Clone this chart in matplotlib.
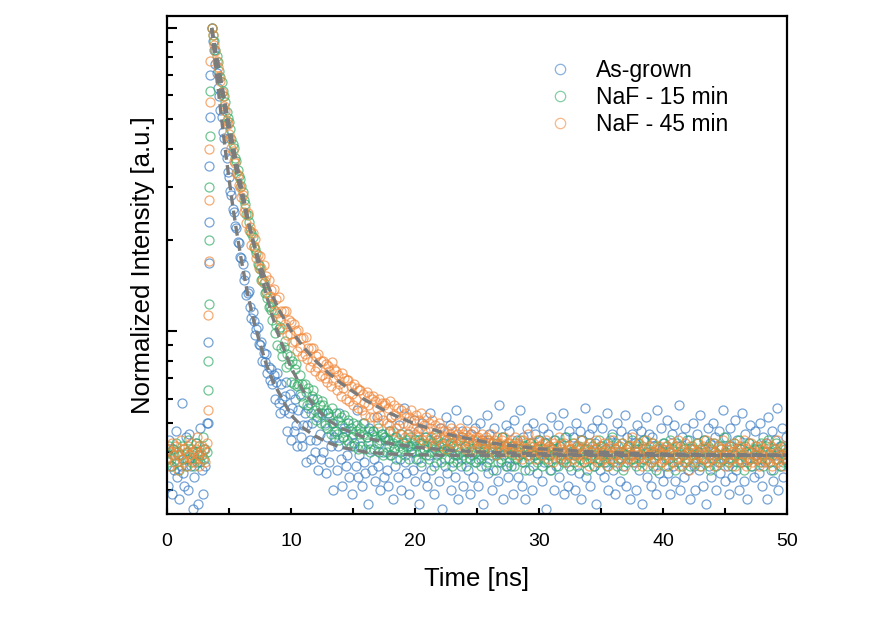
import numpy as np
import matplotlib
matplotlib.use("Agg")
import matplotlib.pyplot as plt
from matplotlib.ticker import NullFormatter, LogLocator, MultipleLocator

plt.rcParams['font.family'] = ['Liberation Sans', 'DejaVu Sans']

# TRPL decays, counts normalised so that the peak = 1000 (0.1 ns channels, 0-50 ns)
time_ns = np.linspace(0, 50, 501)

blue = [
    # 0.0-3.2 ns, before the pulse
    38, 31, 44, 36, 29, 41, 35, 47, 33, 39, 28, 36, 58, 34, 31, 45, 38, 30, 46, 36, 40, 26, 33, 43, 37, 27, 39, 48, 35, 29, 41, 36, 50,
    # 3.3-3.5 rise
    92, 350, 700,
    # 3.6 ns peak onwards
    1000, 905, 846, 758, 712, 636, 598, 537, 508, 455, 434, 390, 374, 336, 322, 291, 281, 253, 247, 222, 219, 197, 195, 176, 174,
    167, 148, 153, 132, 134, 136, 120, 111, 116, 108, 97, 102, 103, 91, 90, 92, 80, 85, 79, 84, 73, 76, 69, 75, 67,
    72, 60, 68, 73, 58, 54, 67, 60, 55, 61, 68, 47, 54, 62, 44,
    56, 47, 60, 49, 42, 55, 62, 45, 42, 49, 54, 37, 49, 56, 44, 38, 50, 60, 40, 44, 52, 35, 46, 38, 54,
    40, 50, 34, 45, 54, 37, 42, 50, 30, 45, 47, 35, 42, 54, 38, 31, 45, 48, 36, 39,
    50, 33, 42, 29, 46, 43, 36, 55, 33, 39, 42, 31, 50, 37, 34, 45, 27, 48, 41, 35,
    47, 38, 32, 52, 36, 43, 30, 46, 40, 33,
    44, 35, 31, 47, 39, 52, 28, 41, 36, 45, 33, 49, 38, 30, 43, 56, 37, 34, 46, 29, 42, 40, 35, 51, 32,
    38, 47, 27, 43, 36, 50, 41, 33, 45, 31, 39, 54, 35, 42, 29, 46, 37, 44, 32, 48, 40, 26, 43, 36, 52,
    34, 41, 49, 30, 45, 37, 33, 55, 39, 28, 44, 36, 47, 31, 42, 38, 51, 35, 29, 46, 40, 33, 48, 37, 43,
    31, 50, 38, 44, 27, 41, 36, 53, 34, 46, 39, 30, 43, 48, 35, 40, 32, 57, 37, 45, 28, 42, 49, 36, 33,
    47, 36, 42, 29, 51, 38, 44, 33, 40, 55, 31, 45, 37, 28, 48, 41, 35, 43, 30, 50, 39, 46, 34, 38, 44,
    40, 32, 48, 37, 43, 26, 46, 39, 35, 52, 41, 30, 44, 36, 49, 33, 42, 38, 54, 29, 45, 37, 31, 47, 40,
    35, 45, 39, 30, 50, 42, 34, 47, 28, 44, 37, 56, 33, 41, 46, 31, 39, 48, 36, 43, 27, 51, 38, 35, 42,
    48, 33, 41, 37, 54, 30, 44, 39, 46, 35, 29, 43, 50, 38, 32, 47, 40, 36, 53, 31, 45, 42, 28, 39, 46,
    37, 43, 30, 49, 41, 35, 47, 27, 44, 38, 52, 33, 40, 46, 31, 45, 36, 42, 29, 55, 39, 34, 48, 41, 32,
    43, 38, 51, 34, 40, 29, 46, 36, 49, 32, 42, 37, 57, 30, 45, 39, 33, 48, 40, 35, 44, 28, 41, 50, 36,
    30, 46, 40, 35, 53, 38, 31, 44, 41, 27, 48, 36, 43, 33, 50, 39, 45, 30, 37, 47, 34, 42, 55, 38, 32,
    45, 36, 29, 48, 42, 33, 39, 51, 35, 44, 30, 41, 37, 54, 32, 46, 38, 28, 43, 49, 36, 40, 33, 47, 39,
    41, 34, 50, 38, 31, 45, 37, 43, 28, 52, 40, 35, 47, 32, 44, 39, 56, 30, 42, 36, 48, 33, 38, 45, 37,
]

green = [
    40, 37, 42, 38, 36, 41, 39, 43, 37, 40, 35, 39, 42, 38, 41, 36, 40, 44, 38, 37, 41, 39, 36, 43, 40, 38, 42, 37, 39, 45, 38, 41, 40,
    80, 300, 620,
    1000, 945, 905, 849, 806, 775, 722, 688, 664, 620, 595, 570, 529, 503, 490, 466, 432, 414, 401, 374, 365, 340, 324, 318, 302,
    287, 270, 262, 244, 241, 230, 214, 211, 205, 189, 187, 181, 167, 166, 160, 148, 149, 144, 134, 135, 129, 120, 121, 118, 109,
    118, 99, 105, 90, 102, 103, 88, 83, 89, 93, 76, 84, 78, 83, 68,
    80, 67, 75, 78, 66, 67, 72, 61, 67, 58, 67, 63, 57, 65, 58, 54, 61, 64, 55, 51, 60, 54, 57, 50, 59,
    57, 49, 55, 48, 54, 52, 46, 56, 50, 47, 54, 46, 51, 44, 52, 49, 45, 53, 47, 44,
    51, 43, 48, 45, 50, 42, 47, 49, 41, 46, 48, 42, 46, 50, 41, 45, 43, 47, 40, 46,
    47, 41, 45, 43, 48, 40, 44, 46, 39, 45,
    45, 40, 44, 42, 47, 39, 43, 41, 45, 38, 44, 42, 40, 46, 41, 43, 39, 44, 42, 38, 45, 41, 43, 40, 44,
    42, 38, 44, 40, 37, 43, 41, 45, 39, 42, 38, 44, 40, 43, 36, 41, 45, 39, 42, 40, 37, 43, 41, 38, 44,
    41, 38, 43, 40, 36, 42, 39, 44, 37, 41, 40, 38, 45, 39, 42, 36, 40, 43, 38, 41, 39, 44, 37, 40, 42,
    38, 41, 36, 43, 40, 39, 42, 37, 44, 38, 40, 41, 35, 42, 39, 43, 37, 40, 38, 45, 39, 41, 36, 42, 40,
    37, 42, 39, 40, 36, 43, 38, 41, 39, 44, 37, 40, 42, 35, 39, 41, 38, 43, 40, 36, 42, 39, 37, 41, 44,
    39, 36, 41, 38, 43, 40, 37, 42, 39, 35, 41, 44, 38, 40, 36, 42, 39, 43, 37, 40, 38, 45, 39, 36, 41,
    40, 43, 37, 39, 41, 36, 42, 38, 44, 40, 37, 41, 39, 35, 43, 38, 40, 42, 36, 39, 41, 37, 44, 38, 40,
    42, 37, 39, 41, 36, 43, 38, 40, 45, 37, 41, 39, 36, 42, 40, 38, 43, 35, 39, 41, 37, 42, 40, 38, 44,
    38, 41, 36, 40, 43, 39, 37, 42, 38, 44, 40, 36, 41, 39, 37, 43, 40, 38, 35, 42, 39, 41, 37, 40, 43,
    39, 36, 42, 38, 40, 44, 37, 41, 39, 35, 43, 38, 40, 42, 36, 39, 41, 37, 44, 38, 40, 36, 42, 39, 41,
    37, 43, 39, 40, 36, 41, 38, 44, 40, 37, 42, 39, 35, 41, 38, 43, 40, 36, 39, 42, 37, 41, 38, 45, 39,
    40, 37, 42, 38, 41, 36, 43, 39, 40, 37, 44, 38, 41, 39, 35, 42, 40, 37, 43, 38, 40, 36, 41, 39, 42,
    38, 41, 37, 43, 39, 36, 40, 42, 38, 44, 37, 40, 39, 35, 41, 43, 38, 40, 36, 42, 39, 37, 41, 38, 40,
]

orange = [
    38, 41, 36, 40, 43, 39, 37, 42, 40, 35, 39, 44, 38, 41, 37, 40, 36, 42, 39, 43, 38, 40, 37, 41, 45, 39, 36, 40, 42, 38, 41, 37, 43,
    113, 400, 780,
    1000, 948, 877, 840, 779, 746, 692, 667, 617, 596, 551, 534, 495, 481, 446, 434, 402, 393, 365, 358, 332, 327, 303, 299, 278,
    282, 247, 255, 227, 246, 216, 221, 193, 211, 191, 201, 174, 179, 162, 177, 162, 147, 166, 146, 152, 134, 148, 131, 137, 124,
    138, 117, 128, 115, 130, 109, 117, 102, 117, 106, 117, 97, 109, 98, 107,
    92, 106, 93, 100, 86, 101, 89, 95, 83, 95, 84, 96, 81, 88, 76, 88, 80, 88, 74, 83, 76, 84, 71, 80, 72,
    80, 70, 78, 68, 77, 74, 66, 79, 69, 75, 74, 64, 72, 67, 61, 73, 65, 70, 60, 69,
    69, 59, 66, 62, 57, 67, 60, 65, 56, 64, 64, 55, 62, 58, 53, 63, 57, 61, 52, 60,
    61, 52, 59, 56, 50, 60, 53, 58, 51, 57,
    58, 50, 56, 49, 59, 52, 47, 57, 53, 48, 56, 51, 46, 55, 50, 53, 45, 54, 49, 52, 47, 55, 48, 51, 46,
    53, 45, 51, 48, 54, 44, 49, 47, 52, 43, 50, 48, 45, 51, 42, 49, 46, 44, 50, 45, 48, 42, 47, 45, 41,
    47, 44, 46, 48, 43, 45, 47, 42, 46, 44, 48, 43, 45, 46, 41, 47, 44, 45, 42, 46, 43, 47, 41, 45, 44,
    45, 42, 44, 46, 41, 43, 45, 40, 44, 43, 46, 41, 43, 44, 39, 45, 42, 43, 41, 44, 40, 45, 42, 43, 41,
    43, 40, 44, 41, 42, 45, 39, 43, 41, 42, 38, 44, 40, 43, 41, 46, 39, 42, 40, 43, 41, 38, 44, 40, 42,
    42, 39, 43, 40, 41, 44, 38, 42, 40, 41, 37, 43, 39, 42, 40, 45, 38, 41, 39, 43, 40, 37, 42, 41, 39,
    41, 38, 43, 40, 39, 42, 37, 41, 44, 39, 40, 42, 38, 41, 36, 43, 40, 39, 41, 38, 44, 40, 37, 42, 39,
    40, 43, 38, 41, 39, 36, 42, 40, 38, 44, 39, 41, 37, 40, 42, 38, 43, 39, 36, 41, 40, 38, 42, 39, 45,
    39, 37, 42, 40, 38, 43, 39, 36, 41, 40, 44, 38, 39, 42, 37, 40, 43, 38, 41, 36, 40, 42, 39, 37, 41,
    38, 42, 39, 36, 41, 40, 43, 37, 39, 42, 38, 44, 36, 40, 41, 39, 37, 43, 38, 40, 35, 42, 39, 41, 38,
    40, 37, 43, 39, 41, 36, 42, 38, 40, 44, 37, 39, 41, 38, 43, 36, 40, 39, 42, 37, 41, 38, 44, 39, 36,
    41, 39, 37, 42, 38, 40, 43, 36, 39, 41, 38, 42, 40, 37, 44, 39, 36, 41, 40, 38, 43, 37, 39, 42, 38,
    40, 36, 42, 39, 37, 41, 38, 43, 40, 37, 39, 42, 36, 41, 38, 40, 44, 37, 39, 41, 38, 36, 42, 40, 39,
]

# extra points caught on the rising edge
rise_t = [3.28, 3.35, 3.38, 3.45]
blue_rise = [50, 168, 230, 510]
green_rise = [64, 123, 200, 440]
orange_rise = [55, 170, 270, 570]

# fitted decays (grey dashed)
fit_t = [3.6, 3.8, 4.0, 4.2, 4.4, 4.6, 4.8, 5.0, 5.3, 5.6, 6.0, 6.5, 7.0, 7.5, 8.0, 8.5,
         9.0, 10, 11, 12, 13, 14, 16, 18, 20, 23, 26, 30, 35, 40, 45, 50]
blue_fit = [1000, 835, 701, 591, 502, 429, 368, 318, 259, 215, 171, 133, 108, 91, 78, 69,
            63, 53, 48, 45, 43, 41.5, 40, 39.4, 39.2, 39, 39, 39, 39, 39, 39, 39]
green_fit = [1000, 899, 809, 728, 657, 592, 535, 484, 417, 361, 299, 238, 193, 158, 132, 112,
             97, 76, 63.5, 56, 51, 48, 44.6, 42.7, 41.5, 40.5, 39.9, 39.5, 39.2, 39.1, 39, 39]
orange_fit = [1000, 885, 785, 699, 623, 558, 501, 451, 388, 337, 282, 232, 195, 167, 146, 131,
              118, 100.7, 88.7, 79.8, 73, 67.6, 59.3, 53.6, 49.5, 45.4, 42.9, 41, 39.9, 39.4, 39.2, 39.1]

labels = ["As-grown", "NaF - 15 min", "NaF - 45 min"]
colors = ["#3b7dc4", "#33ad66", "#f2883a"]

fig = plt.figure(figsize=(8.96, 6.24), dpi=100)
ax = fig.add_axes([0.1864, 0.1763, 0.6920, 0.7981])

series = [(blue, blue_rise), (green, green_rise), (orange, orange_rise)]
for (vals, rise), lab, col in zip(series, labels, colors):
    assert len(vals) == len(time_ns)
    t = np.concatenate([time_ns, rise_t])
    y = np.concatenate([vals, rise]) / 1000.0
    ax.plot(t, y, 'o', mfc='none', mec=col, ms=6.5, mew=0.9, alpha=0.7, label=lab)

for fit in [blue_fit, green_fit, orange_fit]:
    ax.plot(fit_t, np.array(fit) / 1000.0, color='#7c7c7c', lw=2.4, ls=(0, (3, 1.6)))

ax.set_yscale('log')
ax.set_ylim(0.025, 1.095)
ax.set_xlim(0, 50)
ax.yaxis.set_major_locator(LogLocator(base=10))
ax.yaxis.set_minor_locator(LogLocator(base=10, subs=np.arange(2, 10)))
ax.yaxis.set_major_formatter(NullFormatter())
ax.yaxis.set_minor_formatter(NullFormatter())
ax.xaxis.set_major_locator(MultipleLocator(10))
ax.xaxis.set_minor_locator(MultipleLocator(5))

for s in ax.spines.values():
    s.set_linewidth(1.6)
ax.tick_params(which='both', direction='in', width=1.5, top=False, right=False)
ax.tick_params(axis='y', which='major', length=7)
ax.tick_params(axis='y', which='minor', length=4)
ax.tick_params(axis='x', which='both', length=4)
ax.tick_params(axis='x', labelsize=14, pad=14)

ax.set_xlabel("Time [ns]", fontsize=18.5, labelpad=12)
ax.set_ylabel("Normalized Intensity [a.u.]", fontsize=18.5, labelpad=5)

leg = ax.legend(loc='upper left', bbox_to_anchor=(0.6127, 0.9054),
                bbox_transform=fig.transFigure, frameon=False, fontsize=16.5,
                handlelength=1.0, handletextpad=1.05, labelspacing=0.18,
                borderpad=0, borderaxespad=0, markerscale=1.15)
for h in leg.legend_handles:
    h.set_alpha(0.6)

fig.savefig("out.png", dpi=100)
